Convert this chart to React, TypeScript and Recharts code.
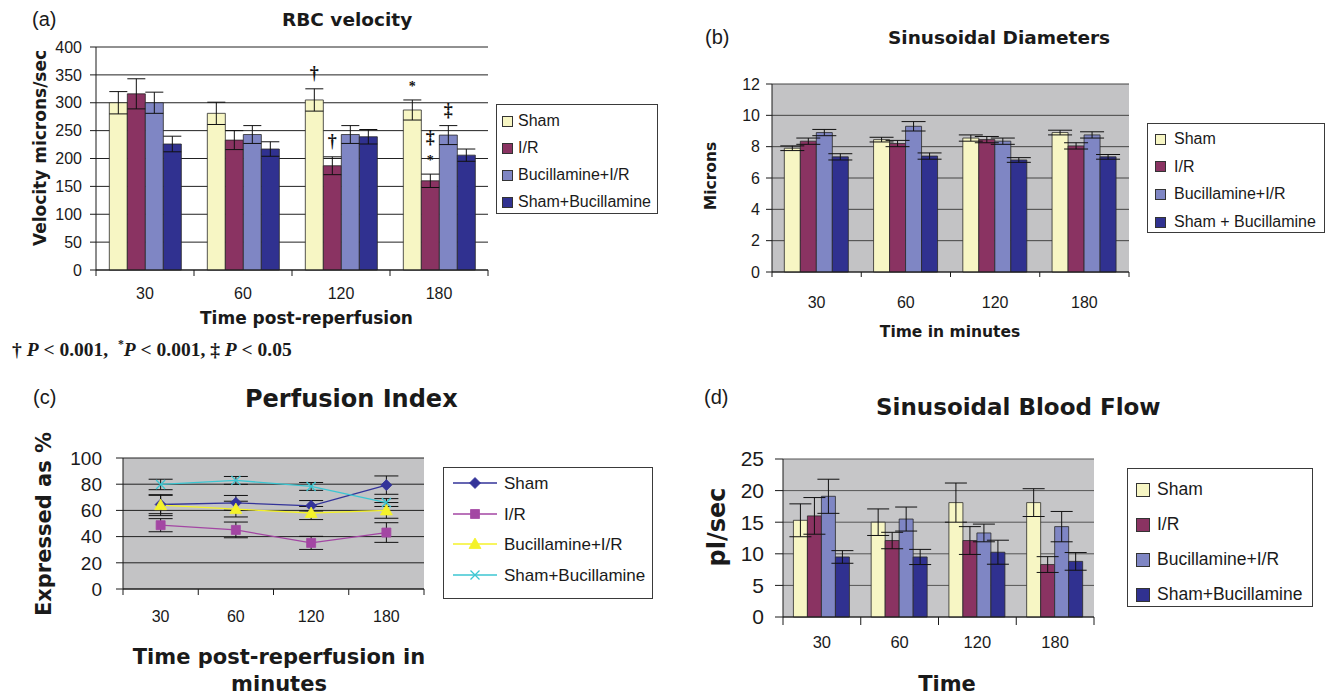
import React from "react";
import {
  BarChart,
  Bar,
  ComposedChart,
  Line,
  XAxis,
  YAxis,
  CartesianGrid,
  ErrorBar,
  LabelList,
} from "recharts";

// shared categories (minutes after reperfusion)
const times = ["30", "60", "120", "180"];
const groupNames = ["Sham", "I/R", "Bucillamine+I/R", "Sham+Bucillamine"];
const diaNames = ["Sham", "I/R", "Bucillamine+I/R", "Sham + Bucillamine"];

// (a) RBC velocity, microns/sec
const rbcTicks = [0, 50, 100, 150, 200, 250, 300, 350, 400];
const rbcSham = [300, 281, 305, 287];
const rbcShamErr = [20, 20, 20, 18];
const rbcIR = [316, 233, 187, 160];
const rbcIRErr = [27, 17, 16, 12];
const rbcBuc = [300, 243, 243, 242];
const rbcBucErr = [19, 16, 16, 17];
const rbcShamBuc = [226, 217, 239, 206];
const rbcShamBucErr = [14, 13, 13, 11];
const rbcShamSig = ["", "", "†", "*"];
const rbcIRSig = ["", "", "†", "‡*"];
const rbcBucSig = ["", "", "", "‡"];

// (b) sinusoidal diameters, microns
const diaTicks = [0, 2, 4, 6, 8, 10, 12];
const diaSham = [7.9, 8.45, 8.55, 8.9];
const diaShamErr = [0.15, 0.15, 0.2, 0.15];
const diaIR = [8.35, 8.2, 8.45, 8.05];
const diaIRErr = [0.2, 0.2, 0.2, 0.2];
const diaBuc = [8.9, 9.3, 8.35, 8.75];
const diaBucErr = [0.2, 0.3, 0.2, 0.2];
const diaShamBuc = [7.35, 7.4, 7.15, 7.35];
const diaShamBucErr = [0.2, 0.2, 0.15, 0.15];

// (c) perfusion index, %
const piTicks = [0, 20, 40, 60, 80, 100];
const piSham = [64.5, 65.8, 63.5, 79.3];
const piShamErr = [7, 5.6, 4, 7];
const piIR = [48.7, 45.1, 35.2, 43.1];
const piIRErr = [5, 6, 5, 7.5];
const piBuc = [64, 61, 58, 60];
const piBucErr = [8, 6, 5, 6];
const piShamBuc = [79.8, 82.9, 78.3, 66];
const piShamBucErr = [4, 3, 3, 3];

// (d) sinusoidal blood flow, pl/sec
const bfTicks = [0, 5, 10, 15, 20, 25];
const bfSham = [15.3, 15.0, 18.1, 18.1];
const bfShamErr = [2.6, 2.1, 3.1, 2.2];
const bfIR = [16.0, 12.1, 12.1, 8.3];
const bfIRErr = [2.9, 1.3, 2.2, 1.25];
const bfBuc = [19.1, 15.5, 13.3, 14.3];
const bfBucErr = [2.7, 1.9, 1.4, 2.4];
const bfShamBuc = [9.5, 9.5, 10.25, 8.8];
const bfShamBucErr = [1.0, 1.2, 1.9, 1.4];

const barColors = ["#F7F6C4", "#8A3362", "#7F86C4", "#303190"];
const lineColors = ["#333399", "#A346A3", "#F4F22A", "#3CC6D2"];
const shapes = ["diamond", "square", "triangle", "cross"];

type Series = { name: string; values: number[]; errors: number[]; marks?: string[] };

type Frame = {
  x: number;
  y: number;
  w: number;
  h: number;
  ticks: number[];
  yFont: number;
  yTickLen: number;
  yGap: number;
  xFont: number;
  xTickLen: number;
  xGap: number;
  cap: number;
  gap?: string;
  bg: string;
  grid: string;
};

const SANS = "'Liberation Sans', Arial, sans-serif";
const BOLD = "'DejaVu Sans', Verdana, sans-serif";
const SERIF = "'Liberation Serif', 'Times New Roman', serif";
const INK = "#1a1a1a";

const YW = 80;
const MT = 12;
const MR = 12;
const XH = 44;

const toRows = (series: Series[]) =>
  times.map((t, i) => {
    const row: Record<string, string | number> = { t };
    series.forEach((s, k) => {
      row[`v${k}`] = s.values[i];
      row[`e${k}`] = s.errors[i];
    });
    return row;
  });

// category label plus Excel-style tick marks on the band edges
const catTick = (f: Frame) => (props: any) => {
  const { x, y, payload, index } = props;
  const half = payload?.offset ?? 0;
  const axisY = y - f.xGap;
  const last = index === times.length - 1;
  return (
    <g>
      <line x1={x - half} x2={x - half} y1={axisY} y2={axisY + f.xTickLen} stroke={INK} />
      {last && <line x1={x + half} x2={x + half} y1={axisY} y2={axisY + f.xTickLen} stroke={INK} />}
      <text
        x={x}
        y={y}
        dy="0.71em"
        textAnchor="middle"
        fontSize={f.xFont}
        fontFamily={SANS}
        fill={INK}
      >
        {payload.value}
      </text>
    </g>
  );
};

const markLabel = (s: Series) => (props: any) => {
  const vb = props.viewBox ?? props;
  const { x, y, width, height } = vb;
  const i = props.index;
  const mark = s.marks?.[i];
  if (!mark) return null;
  const errTop = y - s.errors[i] * (height / s.values[i]);
  const chars = Array.from(mark);
  return (
    <g>
      {chars.map((c, j) => {
        const star = c === "*";
        const lift = (chars.length - 1 - j) * 21;
        return (
          <text
            key={j}
            x={x + width / 2}
            y={errTop - (star ? 9 : 10) - lift}
            textAnchor="middle"
            fontFamily={SERIF}
            fontWeight={700}
            fontSize={star ? 14 : 18}
            fill="#111"
          >
            {c}
          </text>
        );
      })}
    </g>
  );
};

function BarPanel({ f, series }: { f: Frame; series: Series[] }) {
  const rows = toRows(series);
  return (
    <div style={{ position: "absolute", left: f.x - YW, top: f.y - MT }}>
      <BarChart
        width={YW + f.w + MR}
        height={MT + f.h + XH}
        data={rows}
        margin={{ top: MT, right: MR, left: 0, bottom: 0 }}
        barCategoryGap={f.gap}
        barGap={0}
      >
        <CartesianGrid vertical={false} stroke={f.grid} fill={f.bg} fillOpacity={1} />
        <XAxis
          dataKey="t"
          interval={0}
          height={XH}
          axisLine={{ stroke: INK }}
          tickLine={false}
          tickSize={0}
          tickMargin={f.xGap}
          tick={catTick(f)}
        />
        <YAxis
          domain={[f.ticks[0], f.ticks[f.ticks.length - 1]]}
          ticks={f.ticks}
          interval={0}
          width={YW}
          tickSize={f.yTickLen}
          tickMargin={f.yGap}
          axisLine={{ stroke: INK }}
          tickLine={{ stroke: INK }}
          tick={{ fontSize: f.yFont, fontFamily: SANS, fill: INK }}
        />
        <YAxis
          yAxisId="r"
          orientation="right"
          width={0}
          domain={[0, 1]}
          tick={false}
          tickLine={false}
          axisLine={{ stroke: "#8a8a8a" }}
        />
        {series.map((s, k) => (
          <Bar
            key={s.name}
            dataKey={`v${k}`}
            fill={barColors[k]}
            stroke="#2a2a2a"
            strokeWidth={0.8}
            isAnimationActive={false}
          >
            <ErrorBar dataKey={`e${k}`} width={f.cap} stroke="#111" strokeWidth={1} />
            {s.marks && <LabelList dataKey={`v${k}`} content={markLabel(s)} />}
          </Bar>
        ))}
      </BarChart>
    </div>
  );
}

const markerPath = (shape: string, cx: number, cy: number) => {
  if (shape === "diamond") return `M${cx},${cy - 5.5}L${cx + 5.5},${cy}L${cx},${cy + 5.5}L${cx - 5.5},${cy}Z`;
  if (shape === "square") return `M${cx - 4.5},${cy - 4.5}h9v9h-9Z`;
  if (shape === "triangle") return `M${cx},${cy - 6}L${cx + 6},${cy + 4.5}L${cx - 6},${cy + 4.5}Z`;
  return `M${cx - 4.5},${cy - 4.5}L${cx + 4.5},${cy + 4.5}M${cx + 4.5},${cy - 4.5}L${cx - 4.5},${cy + 4.5}`;
};

function Marker({ shape, color, cx, cy }: { shape: string; color: string; cx: number; cy: number }) {
  const cross = shape === "cross";
  return (
    <path
      d={markerPath(shape, cx, cy)}
      fill={cross ? "none" : color}
      stroke={color}
      strokeWidth={cross ? 1.3 : 0.8}
    />
  );
}

function LinePanel({ f, series }: { f: Frame; series: Series[] }) {
  const rows = toRows(series);
  return (
    <div style={{ position: "absolute", left: f.x - YW, top: f.y - MT }}>
      <ComposedChart
        width={YW + f.w + MR}
        height={MT + f.h + XH}
        data={rows}
        margin={{ top: MT, right: MR, left: 0, bottom: 0 }}
      >
        <CartesianGrid vertical={false} stroke={f.grid} fill={f.bg} fillOpacity={1} />
        <XAxis
          dataKey="t"
          scale="band"
          interval={0}
          height={XH}
          axisLine={{ stroke: INK }}
          tickLine={false}
          tickSize={0}
          tickMargin={f.xGap}
          tick={catTick(f)}
        />
        <YAxis
          domain={[f.ticks[0], f.ticks[f.ticks.length - 1]]}
          ticks={f.ticks}
          interval={0}
          width={YW}
          tickSize={f.yTickLen}
          tickMargin={f.yGap}
          axisLine={{ stroke: INK }}
          tickLine={{ stroke: INK }}
          tick={{ fontSize: f.yFont, fontFamily: SANS, fill: INK }}
        />
        <YAxis
          yAxisId="r"
          orientation="right"
          width={0}
          domain={[0, 1]}
          tick={false}
          tickLine={false}
          axisLine={{ stroke: "#8a8a8a" }}
        />
        {series.map((s, k) => (
          <Line
            key={s.name}
            type="linear"
            dataKey={`v${k}`}
            stroke={lineColors[k]}
            strokeWidth={1.3}
            activeDot={false}
            isAnimationActive={false}
            dot={(p: any) => (
              <Marker key={`${k}-${p.index}`} shape={shapes[k]} color={lineColors[k]} cx={p.cx} cy={p.cy} />
            )}
          >
            <ErrorBar dataKey={`e${k}`} width={f.cap} stroke="#111" strokeWidth={1} direction="y" />
          </Line>
        ))}
      </ComposedChart>
    </div>
  );
}

type TxtProps = {
  x: number;
  y: number;
  size: number;
  font?: string;
  bold?: boolean;
  center?: boolean;
  rotate?: boolean;
  children: React.ReactNode;
};

function Txt({ x, y, size, font = BOLD, bold = true, center = false, rotate = false, children }: TxtProps) {
  const transform = rotate
    ? "translate(-50%, -50%) rotate(-90deg)"
    : `translate(${center ? "-50%" : "0"}, -50%)`;
  return (
    <div
      style={{
        position: "absolute",
        left: x,
        top: y,
        fontSize: size,
        fontFamily: font,
        fontWeight: bold ? 700 : 400,
        lineHeight: 1,
        whiteSpace: "nowrap",
        color: INK,
        transform,
      }}
    >
      {children}
    </div>
  );
}

type LegendBox = {
  x: number;
  y: number;
  w: number;
  h: number;
  first: number;
  step: number;
  font: number;
  sw: number;
  swX: number;
  textX: number;
};

function BarLegend({ b, names }: { b: LegendBox; names: string[] }) {
  return (
    <div
      style={{
        position: "absolute",
        left: b.x,
        top: b.y,
        width: b.w,
        height: b.h,
        border: "1px solid #3a3a3a",
        boxSizing: "border-box",
        background: "#fff",
      }}
    >
      {names.map((n, i) => (
        <React.Fragment key={n}>
          <div
            style={{
              position: "absolute",
              left: b.swX,
              top: b.first + i * b.step - b.sw / 2,
              width: b.sw,
              height: b.sw,
              background: barColors[i],
              border: "1px solid #333",
              boxSizing: "border-box",
            }}
          />
          <Txt x={b.textX} y={b.first + i * b.step} size={b.font} font={SANS} bold={false}>
            {n}
          </Txt>
        </React.Fragment>
      ))}
    </div>
  );
}

function LineLegend({ b, names }: { b: LegendBox; names: string[] }) {
  return (
    <div
      style={{
        position: "absolute",
        left: b.x,
        top: b.y,
        width: b.w,
        height: b.h,
        border: "1px solid #3a3a3a",
        boxSizing: "border-box",
        background: "#fff",
      }}
    >
      {names.map((n, i) => (
        <React.Fragment key={n}>
          <svg
            width={b.sw}
            height={16}
            style={{ position: "absolute", left: b.swX, top: b.first + i * b.step - 8 }}
          >
            <line x1={0} y1={8} x2={b.sw} y2={8} stroke={lineColors[i]} strokeWidth={1.3} />
            <Marker shape={shapes[i]} color={lineColors[i]} cx={b.sw / 2} cy={8} />
          </svg>
          <Txt x={b.textX} y={b.first + i * b.step} size={b.font} font={SANS} bold={false}>
            {n}
          </Txt>
        </React.Fragment>
      ))}
    </div>
  );
}

const frameA: Frame = {
  x: 96, y: 47, w: 392, h: 223, ticks: rbcTicks,
  yFont: 16, yTickLen: 6, yGap: 8, xFont: 16, xTickLen: 6, xGap: 18,
  cap: 9, gap: "13.6%", bg: "#ffffff", grid: "#222",
};
const frameB: Frame = {
  x: 772, y: 84, w: 357, h: 188, ticks: diaTicks,
  yFont: 16, yTickLen: 6, yGap: 6, xFont: 16, xTickLen: 5, xGap: 25,
  cap: 12, gap: "13.8%", bg: "#C3C3C5", grid: "#444",
};
const frameC: Frame = {
  x: 123, y: 458, w: 301, h: 131, ticks: piTicks,
  yFont: 19, yTickLen: 7, yGap: 14, xFont: 16, xTickLen: 6, xGap: 22,
  cap: 12, bg: "#C3C3C5", grid: "#222",
};
const frameD: Frame = {
  x: 783, y: 459, w: 311, h: 158, ticks: bfTicks,
  yFont: 21, yTickLen: 8, yGap: 11, xFont: 16.5, xTickLen: 8, xGap: 19,
  cap: 11, gap: "13.4%", bg: "#C6C6C8", grid: "#555",
};

const rbcSeries: Series[] = [
  { name: groupNames[0], values: rbcSham, errors: rbcShamErr, marks: rbcShamSig },
  { name: groupNames[1], values: rbcIR, errors: rbcIRErr, marks: rbcIRSig },
  { name: groupNames[2], values: rbcBuc, errors: rbcBucErr, marks: rbcBucSig },
  { name: groupNames[3], values: rbcShamBuc, errors: rbcShamBucErr },
];
const diaSeries: Series[] = [
  { name: diaNames[0], values: diaSham, errors: diaShamErr },
  { name: diaNames[1], values: diaIR, errors: diaIRErr },
  { name: diaNames[2], values: diaBuc, errors: diaBucErr },
  { name: diaNames[3], values: diaShamBuc, errors: diaShamBucErr },
];
const piSeries: Series[] = [
  { name: groupNames[0], values: piSham, errors: piShamErr },
  { name: groupNames[1], values: piIR, errors: piIRErr },
  { name: groupNames[2], values: piBuc, errors: piBucErr },
  { name: groupNames[3], values: piShamBuc, errors: piShamBucErr },
];
const bfSeries: Series[] = [
  { name: groupNames[0], values: bfSham, errors: bfShamErr },
  { name: groupNames[1], values: bfIR, errors: bfIRErr },
  { name: groupNames[2], values: bfBuc, errors: bfBucErr },
  { name: groupNames[3], values: bfShamBuc, errors: bfShamBucErr },
];

export default function App() {
  return (
    <div
      style={{
        position: "absolute",
        left: 0,
        top: 0,
        width: 1333,
        height: 697,
        overflow: "hidden",
        background: "#fff",
      }}
    >
      {/* (a) */}
      <Txt x={32} y={19} size={20} font={SANS} bold={false}>(a)</Txt>
      <Txt x={282} y={20} size={18.5}>RBC velocity</Txt>
      <Txt x={40} y={148} size={17} rotate>Velocity microns/sec</Txt>
      <BarPanel f={frameA} series={rbcSeries} />
      <Txt x={200} y={318} size={17}>Time post-reperfusion</Txt>
      <BarLegend
        b={{ x: 496, y: 104, w: 162, h: 110, first: 16, step: 27, font: 16, sw: 11, swX: 5, textX: 21 }}
        names={groupNames}
      />
      <Txt x={12} y={349} size={19.5} font={SERIF}>
        † <i>P</i> &lt; 0.001,&nbsp; <sup style={{ fontSize: "0.6em" }}>*</sup>
        <i>P</i> &lt; 0.001, ‡ <i>P</i> &lt; 0.05
      </Txt>

      {/* (b) */}
      <Txt x={705} y={37} size={20} font={SANS} bold={false}>(b)</Txt>
      <Txt x={888} y={38} size={18.5}>Sinusoidal Diameters</Txt>
      <Txt x={712} y={176} size={15.5} rotate>Microns</Txt>
      <BarPanel f={frameB} series={diaSeries} />
      <Txt x={950} y={333} size={15.5} center>Time in minutes</Txt>
      <BarLegend
        b={{ x: 1147, y: 123, w: 178, h: 110, first: 15, step: 27.7, font: 16, sw: 11, swX: 7, textX: 26 }}
        names={diaNames}
      />

      {/* (c) */}
      <Txt x={33} y={397} size={20} font={SANS} bold={false}>(c)</Txt>
      <Txt x={245} y={399} size={24}>Perfusion Index</Txt>
      <Txt x={44} y={524} size={21} rotate>Expressed as %</Txt>
      <LinePanel f={frameC} series={piSeries} />
      <Txt x={279} y={657} size={21} center>Time post-reperfusion in</Txt>
      <Txt x={279} y={684} size={21} center>minutes</Txt>
      <LineLegend
        b={{ x: 443, y: 467, w: 210, h: 132, first: 15, step: 30.7, font: 17, sw: 44, swX: 9, textX: 60 }}
        names={groupNames}
      />

      {/* (d) */}
      <Txt x={704} y={397} size={20} font={SANS} bold={false}>(d)</Txt>
      <Txt x={876} y={407} size={23}>Sinusoidal Blood Flow</Txt>
      <Txt x={717} y={527} size={24} rotate>pl/sec</Txt>
      <BarPanel f={frameD} series={bfSeries} />
      <Txt x={947} y={684} size={21} center>Time</Txt>
      <BarLegend
        b={{ x: 1127, y: 468, w: 186, h: 139, first: 21, step: 35, font: 17.5, sw: 14, swX: 8, textX: 29 }}
        names={groupNames}
      />
    </div>
  );
}
